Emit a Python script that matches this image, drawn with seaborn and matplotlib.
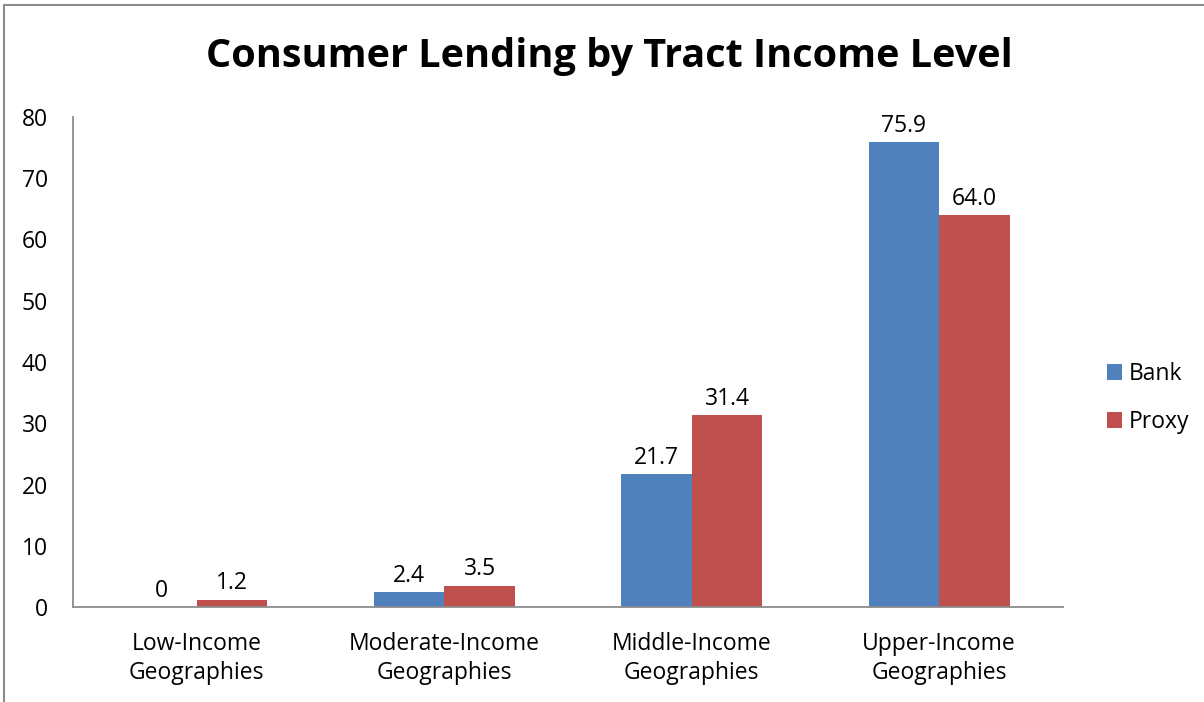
import matplotlib
matplotlib.use("Agg")
import matplotlib.pyplot as plt
from matplotlib.lines import Line2D
from matplotlib.patches import Patch
import seaborn as sns
import pandas as pd

categories = ["Low-Income\nGeographies", "Moderate-Income\nGeographies",
              "Middle-Income\nGeographies", "Upper-Income\nGeographies"]
series_names = ["Bank", "Proxy"]
bank_values = [0.0, 2.4, 21.7, 75.9]
proxy_values = [1.2, 3.5, 31.4, 64.0]
y_ticks = [0, 10, 20, 30, 40, 50, 60, 70, 80]
colors = {"Bank": "#4F81BD", "Proxy": "#C0504D"}

df = pd.DataFrame({
    "category": categories * 2,
    "series": ["Bank"] * len(categories) + ["Proxy"] * len(categories),
    "value": bank_values + proxy_values,
})

sns.set_theme(style="white")
plt.rcParams["font.family"] = ["Open Sans", "DejaVu Sans"]
plt.rcParams["text.color"] = "black"
plt.rcParams["xtick.color"] = "black"
plt.rcParams["ytick.color"] = "black"

FS = 16.5
W, H = 1204, 702
fig = plt.figure(figsize=(W / 100, H / 100), dpi=100)
ax = fig.add_axes([73 / W, 1 - 607 / H, (1063 - 73) / W, (607 - 117) / H])

sns.barplot(data=df, x="category", y="value", hue="series", order=categories,
            hue_order=series_names, palette=colors, width=0.57, saturation=1,
            edgecolor="none", linewidth=0, legend=False, ax=ax)

for container, vals in zip(ax.containers, [bank_values, proxy_values]):
    labels = ["0" if v == 0 else f"{v:.1f}" for v in vals]
    ax.bar_label(container, labels=labels, padding=3, fontsize=FS, color="black")

ax.set_ylim(0, 80)
ax.set_yticks(y_ticks)
ax.set_yticklabels([str(t) for t in y_ticks], fontsize=FS)
ax.tick_params(axis="x", labelsize=FS, pad=18, length=0)
ax.tick_params(axis="y", pad=18, length=0)
for lbl in ax.get_xticklabels():
    lbl.set_linespacing(1.3)
ax.set_xlabel("")
ax.set_ylabel("")
ax.set_xlim(-0.5, len(categories) - 0.5)

for side in ["top", "right"]:
    ax.spines[side].set_visible(False)
for side in ["left", "bottom"]:
    ax.spines[side].set_color("#8C8C8C")
    ax.spines[side].set_linewidth(1.3)

fig.text(609 / W, 1 - 56 / H, "Consumer Lending by Tract Income Level",
         ha="center", va="center", fontsize=28.5, fontweight="bold", color="black")

handles = [Patch(facecolor=colors[s], edgecolor="none") for s in series_names]
fig.legend(handles, series_names, loc="center left",
           bbox_to_anchor=(1086 / W, 1 - 398 / H), frameon=False, fontsize=FS,
           handlelength=0.65, handleheight=0.65, handletextpad=0.3,
           labelspacing=1.05)

# outer chart frame
fig.add_artist(Line2D([4 / W, 4 / W], [0, 1 - 5 / H], transform=fig.transFigure,
                      color="#8C8C8C", linewidth=1.5))
fig.add_artist(Line2D([4 / W, 1], [1 - 5 / H, 1 - 5 / H], transform=fig.transFigure,
                      color="#8C8C8C", linewidth=1.5))

fig.savefig("out.png", dpi=100, facecolor="white")
